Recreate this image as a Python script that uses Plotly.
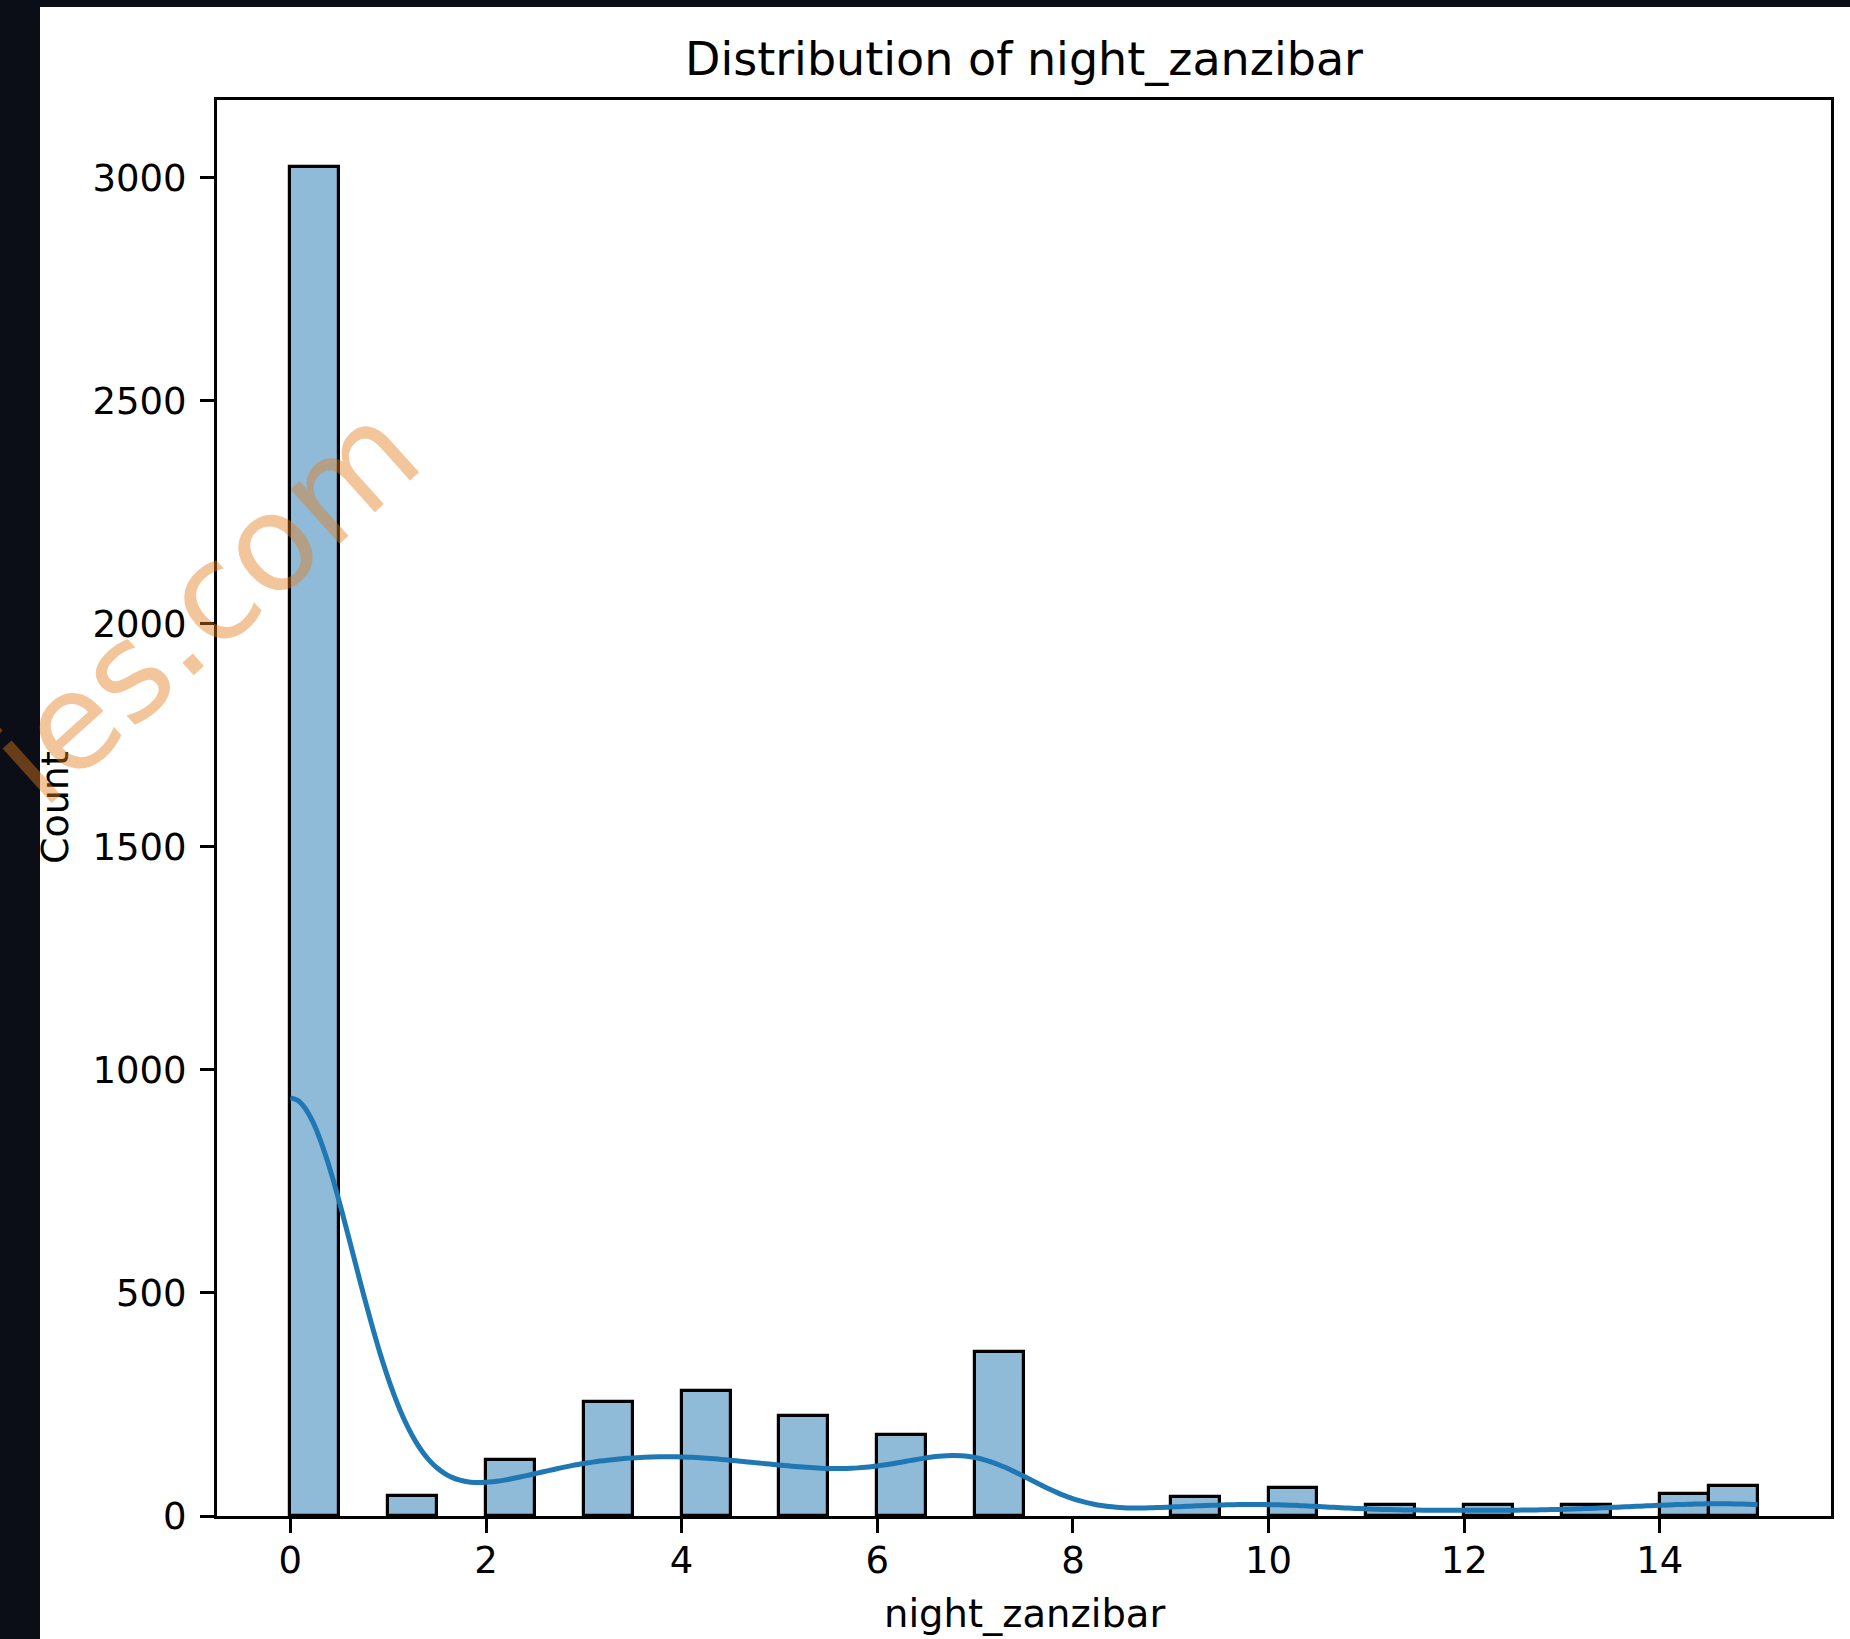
import numpy as np
import plotly.graph_objects as go

# Nights spent in Zanzibar and how many records report each value
nights = [0, 1, 2, 3, 4, 5, 6, 7, 9, 10, 11, 12, 13, 14, 15]
counts = [3023, 45, 126, 256, 281, 225, 182, 367, 43, 62, 25, 25, 25, 50, 67]

title_text = "Distribution of night_zanzibar"
x_label = "night_zanzibar"
y_label = "Count"
x_ticks = [0, 2, 4, 6, 8, 10, 12, 14]
y_ticks = [0, 500, 1000, 1500, 2000, 2500, 3000]
n_bins = 30

# ---- histogram bins ----
vals = np.array(nights, dtype=float)
wts = np.array(counts, dtype=float)
edges = np.linspace(vals.min(), vals.max(), n_bins + 1)
hist, edges = np.histogram(vals, bins=edges, weights=wts)
bin_w = edges[1] - edges[0]
centers = (edges[:-1] + edges[1:]) / 2

# ---- gaussian KDE (Scott's rule), scaled to counts ----
n = wts.sum()
mean = (vals * wts).sum() / n
sd = np.sqrt(((vals - mean) ** 2 * wts).sum() / (n - 1))
bw = sd * n ** (-1 / 5)
grid = np.linspace(vals.min(), vals.max(), 200)
dens = (wts[None, :] * np.exp(-0.5 * ((grid[:, None] - vals[None, :]) / bw) ** 2)).sum(axis=1)
dens /= n * bw * np.sqrt(2 * np.pi)
kde_y = dens * n * bin_w

# ---- canvas geometry ----
W, H = 1850, 1639
L, R, T, B = 217, 1831, 100, 1516

def px_x(p):
    return (p - L) / (R - L)

def px_y(p):
    return (B - p) / (B - T)

span = edges[-1] - edges[0]
x_range = [edges[0] - 0.05 * span, edges[-1] + 0.05 * span]
y_range = [0, hist.max() * 1.05]

FONT = "DejaVu Sans"
BAR_FILL = "rgba(31,119,180,0.5)"
LINE_BLUE = "#1f77b4"

fig = go.Figure()
fig.add_trace(go.Bar(
    x=centers[hist > 0], y=hist[hist > 0], width=bin_w,
    marker=dict(color=BAR_FILL, line=dict(color="black", width=3.2)),
    hoverinfo="skip", showlegend=False,
))
fig.add_trace(go.Scatter(
    x=grid, y=kde_y, mode="lines",
    line=dict(color=LINE_BLUE, width=5, shape="spline"),
    hoverinfo="skip", showlegend=False,
))

axis_common = dict(
    showline=True, mirror=True, linecolor="black", linewidth=3,
    ticks="outside", ticklen=14, tickwidth=3, tickcolor="black",
    showgrid=False, zeroline=False,
    tickfont=dict(family=FONT, size=37, color="black"),
)
fig.update_xaxes(range=x_range, tickvals=x_ticks, ticklabelstandoff=-4, **axis_common)
fig.update_yaxes(range=y_range, tickvals=y_ticks, ticklabelstandoff=6, **axis_common)

fig.update_layout(
    width=W, height=H,
    margin=dict(l=L, r=W - R, t=T, b=H - B, pad=0),
    paper_bgcolor="#0b0e17",
    plot_bgcolor="white",
    bargap=0,
    title=dict(text=title_text, x=px_x((L + R) / 2), xref="paper", xanchor="center",
               y=1 - 59 / H, yref="container", yanchor="middle",
               font=dict(family=FONT, size=46, color="black")),
    shapes=[dict(type="rect", xref="paper", yref="paper", layer="below",
                 x0=px_x(40), x1=px_x(W + 5), y0=px_y(7), y1=px_y(H + 5),
                 fillcolor="white", line=dict(width=0))],
    annotations=[
        dict(text=x_label, xref="paper", yref="paper", x=0.5, y=px_y(1613),
             xanchor="center", yanchor="middle", showarrow=False,
             font=dict(family=FONT, size=38.5, color="black")),
        dict(text=y_label, xref="paper", yref="paper", x=px_x(55), y=px_y(808),
             xanchor="center", yanchor="middle", textangle=-90, showarrow=False,
             font=dict(family=FONT, size=38, color="black")),
        dict(text="ies.com", xref="paper", yref="paper", x=px_x(204), y=px_y(604),
             xanchor="center", yanchor="middle", textangle=-42, showarrow=False,
             font=dict(family=FONT, size=134, color="rgba(225,123,25,0.44)")),
    ],
)

fig.write_html("out.html")
